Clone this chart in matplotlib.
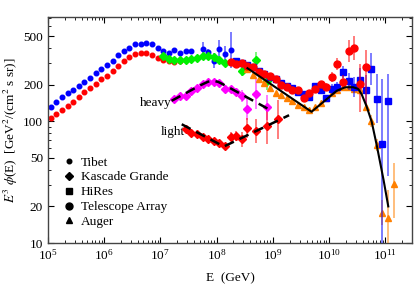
import numpy as np
import matplotlib
matplotlib.use('Agg')
import matplotlib.pyplot as plt
from matplotlib.lines import Line2D
from matplotlib.ticker import NullFormatter, LogLocator

plt.rcParams['font.family'] = ['Liberation Serif', 'DejaVu Serif']
plt.rcParams['mathtext.fontset'] = 'stix'

# ---- data (log10 E [GeV], E^3 flux, error half-widths in dex) ----
tibet_logE = [5.05, 5.15, 5.25, 5.35, 5.45, 5.55, 5.65, 5.75, 5.85, 5.95,
              6.05, 6.15, 6.25, 6.35, 6.45, 6.55, 6.65, 6.75, 6.85, 6.95,
              7.05, 7.15, 7.25, 7.35, 7.45, 7.55, 7.75, 7.85, 7.95, 8.05,
              8.15, 8.25]
tibet_blue = [132, 144, 157, 169, 182, 196, 211, 228, 249, 268,
              288, 311, 347, 374, 401, 427, 433, 435, 430, 395,
              375, 365, 381, 365, 374, 374, 390, 368, 313, 390,
              355, 383]
tibet_blue_err = [0.0] * 26 + [0.06, 0.03, 0.06, 0.075, 0.065, 0.15]

tibet_red_logE = tibet_logE[:25]
tibet_red = [106, 114, 124, 134, 144, 157, 173, 186, 202, 221,
             237, 259, 283, 311, 338, 353, 360, 360, 351, 333,
             315, 313, 307, 313, 316]

kg_logE = [7.05, 7.15, 7.25, 7.35, 7.45, 7.55, 7.65, 7.75, 7.85, 7.95,
           8.05, 8.15, 8.45, 8.7, 8.9]
kg_all = [343, 321, 315, 319, 315, 323, 332, 340, 345, 335,
          318, 303, 259, 315, 212]
kg_all_err = [0.01] * 12 + [0.04, 0.07, 0.07]

heavy_logE = [7.25, 7.35, 7.45, 7.55, 7.65, 7.75, 7.85, 7.95, 8.05, 8.15,
              8.25, 8.35, 8.45, 8.55, 8.7, 8.9]
heavy = [152, 162, 162, 177, 186, 202, 209, 211, 206, 184,
         184, 175, 161, 126, 167, 130]
heavy_err = [0.02] * 11 + [0.03, 0.05, 0.09, 0.12, 0.1]

light_logE = [7.45, 7.55, 7.65, 7.75, 7.85, 7.95, 8.05, 8.15, 8.25, 8.35,
              8.45, 8.55, 8.7, 8.9, 9.1]
light = [87.1, 80.7, 78.1, 74.8, 71.0, 68.7, 65.8, 62.1, 74.8, 75.2,
         71.0, 88.3, 83.2, 91.5, 104]
light_err = [0.02] * 8 + [0.04, 0.04, 0.06, 0.08, 0.1, 0.15, 0.16]

hires_logE = [8.35, 8.45, 8.55, 8.65, 8.75, 8.85, 8.95, 9.05, 9.15, 9.25,
              9.35, 9.45, 9.55, 9.65, 9.75, 9.85, 9.95, 10.05, 10.15, 10.25,
              10.35, 10.45, 10.55, 10.65, 10.75, 10.85, 10.95, 11.05]
hires = [313, 302, 288, 277, 259, 244, 229, 220, 206, 196,
         186, 175, 166, 159, 195, 179, 154, 184, 192, 254,
         212, 191, 218, 180, 268, 153, 64.5, 147]
hires_lo = [0.02] * 17 + [0.04, 0.04, 0.05, 0.07, 0.08, 0.1, 0.12, 0.13, 0.2, 1.5, 0.62]
hires_hi = [0.02] * 17 + [0.04, 0.04, 0.05, 0.07, 0.08, 0.1, 0.12, 0.13, 0.2, 0.54, 0.22]

ta_logE = [8.25, 8.35, 8.45, 8.55, 8.65, 8.75, 8.85, 8.95, 9.05, 9.15,
           9.25, 9.35, 9.45, 9.55, 9.65, 9.75, 9.85, 9.95, 10.05, 10.15,
           10.25, 10.35, 10.45, 10.55, 10.65]
ta = [305, 296, 302, 286, 279, 255, 244, 235, 222, 198,
      191, 181, 180, 154, 169, 184, 202, 191, 231, 293,
      209, 379, 397, 202, 278]
ta_lo = [0.015] * 17 + [0.03, 0.04, 0.05, 0.06, 0.09, 0.1, 0.23, 0.32]
ta_hi = [0.015] * 17 + [0.03, 0.04, 0.05, 0.06, 0.09, 0.1, 0.16, 0.14]

auger_logE = [8.55, 8.65, 8.75, 8.85, 8.95, 9.05, 9.15, 9.25, 9.35, 9.45,
              9.55, 9.65, 9.75, 9.85, 9.95, 10.05, 10.15, 10.25, 10.35, 10.45,
              10.55, 10.65, 10.75, 10.85, 10.95, 11.05, 11.15]
auger = [269, 240, 222, 204, 187, 170, 164, 155, 146, 136,
         131, 123, 130, 141, 155, 170, 181, 190, 190, 184,
         181, 132, 100.5, 63.4, 17.8, 16.0, 30.5]
auger_lo = [0.01] * 21 + [0.03, 0.05, 0.05, 0.1, 1.5, 0.28]
auger_hi = [0.01] * 21 + [0.03, 0.05, 0.05, 0.1, 0.23, 0.17]

# fit curves
heavy_fit_logE = [7.20, 7.70, 7.85, 7.94, 8.03, 8.15, 8.99]
heavy_fit = [147, 196, 211, 215, 210, 197, 121]
light_fit_logE = [7.38, 8.13, 9.29]
light_fit = [94.4, 62, 112]
auger_fit_logE = [8.55, 9.69, 10.14, 10.29, 10.43, 10.52, 10.58, 10.67,
                  10.76, 10.85, 10.97, 11.055]
auger_fit = [272, 119.5, 178, 190, 190, 184, 167, 132, 99, 63.4, 33.2, 20.0]

legend_labels = ['Tibet', 'Kascade Grande', 'HiRes', 'Telescope Array', 'Auger']

BLUE = '#0000ff'
RED = '#ff0000'
GREEN = '#00f000'
MAGENTA = '#ff00ff'
ORANGE = '#ff8000'


def draw(ax, logE, val, lo, hi, marker, color, ms, z):
    E = 10 ** np.array(logE)
    v = np.array(val, dtype=float)
    ylo = v - v / 10 ** np.array(lo)
    yhi = v * 10 ** np.array(hi) - v
    ax.errorbar(E, v, yerr=[ylo, yhi], fmt='none', ecolor=color, alpha=0.6,
                elinewidth=1.2, capsize=0, zorder=z)
    ax.plot(E, v, marker, color=color, mec=color, ms=ms, ls='none', zorder=z + 0.1)


fig = plt.figure(figsize=(4.17, 2.86), dpi=100)
ax = fig.add_axes([0.115, 0.150, 0.873, 0.789])

zeros = [0.0] * len(tibet_red)
draw(ax, tibet_red_logE, tibet_red, zeros, zeros, 'o', RED, 3.3, 2)
draw(ax, tibet_logE, tibet_blue, tibet_blue_err, tibet_blue_err, 'o', BLUE, 3.3, 2)
draw(ax, kg_logE, kg_all, kg_all_err, kg_all_err, 'D', GREEN, 3.6, 3)
draw(ax, heavy_logE, heavy, heavy_err, heavy_err, 'D', MAGENTA, 3.6, 3)
draw(ax, light_logE, light, light_err, light_err, 'D', RED, 3.6, 3)
draw(ax, auger_logE, auger, auger_lo, auger_hi, '^', ORANGE, 4.4, 4)
draw(ax, hires_logE, hires, hires_lo, hires_hi, 's', BLUE, 4.3, 5)
draw(ax, ta_logE, ta, ta_lo, ta_hi, 'o', RED, 5.0, 6)

ax.plot(10 ** np.array(heavy_fit_logE), heavy_fit, color='k', lw=1.8,
        dashes=(4, 2.5), zorder=8)
ax.plot(10 ** np.array(light_fit_logE), light_fit, color='k', lw=1.8,
        dashes=(4, 2.5), zorder=8)
ax.plot(10 ** np.array(auger_fit_logE), auger_fit, color='k', lw=1.5, zorder=8)

ax.text(10 ** 6.92, 141, 'heavy', fontsize=9.5, ha='center', va='center')
ax.text(10 ** 7.22, 81, 'light', fontsize=9.5, ha='center', va='center')

ax.set_xscale('log')
ax.set_yscale('log')
ax.set_xlim(1e5, 3e11)
ax.set_ylim(10, 710)
ax.set_xticks([10 ** k for k in range(5, 12)])
ax.xaxis.set_minor_locator(LogLocator(base=10, subs=np.arange(2, 10), numticks=20))
ax.set_yticks([10, 20, 50, 100, 200, 500], labels=['10', '20', '50', '100', '200', '500'])
ax.yaxis.set_minor_formatter(NullFormatter())
ax.xaxis.set_minor_formatter(NullFormatter())
ax.tick_params(which='both', direction='in', top=True, right=True, labelsize=9.5)
ax.tick_params(which='major', length=4.5, width=0.8)
ax.tick_params(which='minor', length=2.3, width=0.6)
for s in ax.spines.values():
    s.set_linewidth(1.0)
    s.set_color('#444444')

ax.set_xlabel('E  (GeV)', fontsize=9.5, labelpad=7)
ax.set_ylabel(r'$E^3\ \phi$(E)  [GeV$^2$/(cm$^2$ s sr)]', fontsize=9.5, labelpad=2)

handles = [Line2D([], [], marker='o', color='k', ms=3.3, ls='none'),
           Line2D([], [], marker='D', color='k', ms=3.6, ls='none'),
           Line2D([], [], marker='s', color='k', ms=4.8, ls='none'),
           Line2D([], [], marker='o', color='k', ms=5.0, ls='none'),
           Line2D([], [], marker='^', color='k', ms=4.4, ls='none')]
ax.legend(handles, legend_labels, loc='lower left', bbox_to_anchor=(0.01, 0.02),
          frameon=False, fontsize=9.5, handlelength=1.0, handletextpad=0.4,
          labelspacing=0.2, borderpad=0.3)

fig.savefig('out.png', dpi=100)
